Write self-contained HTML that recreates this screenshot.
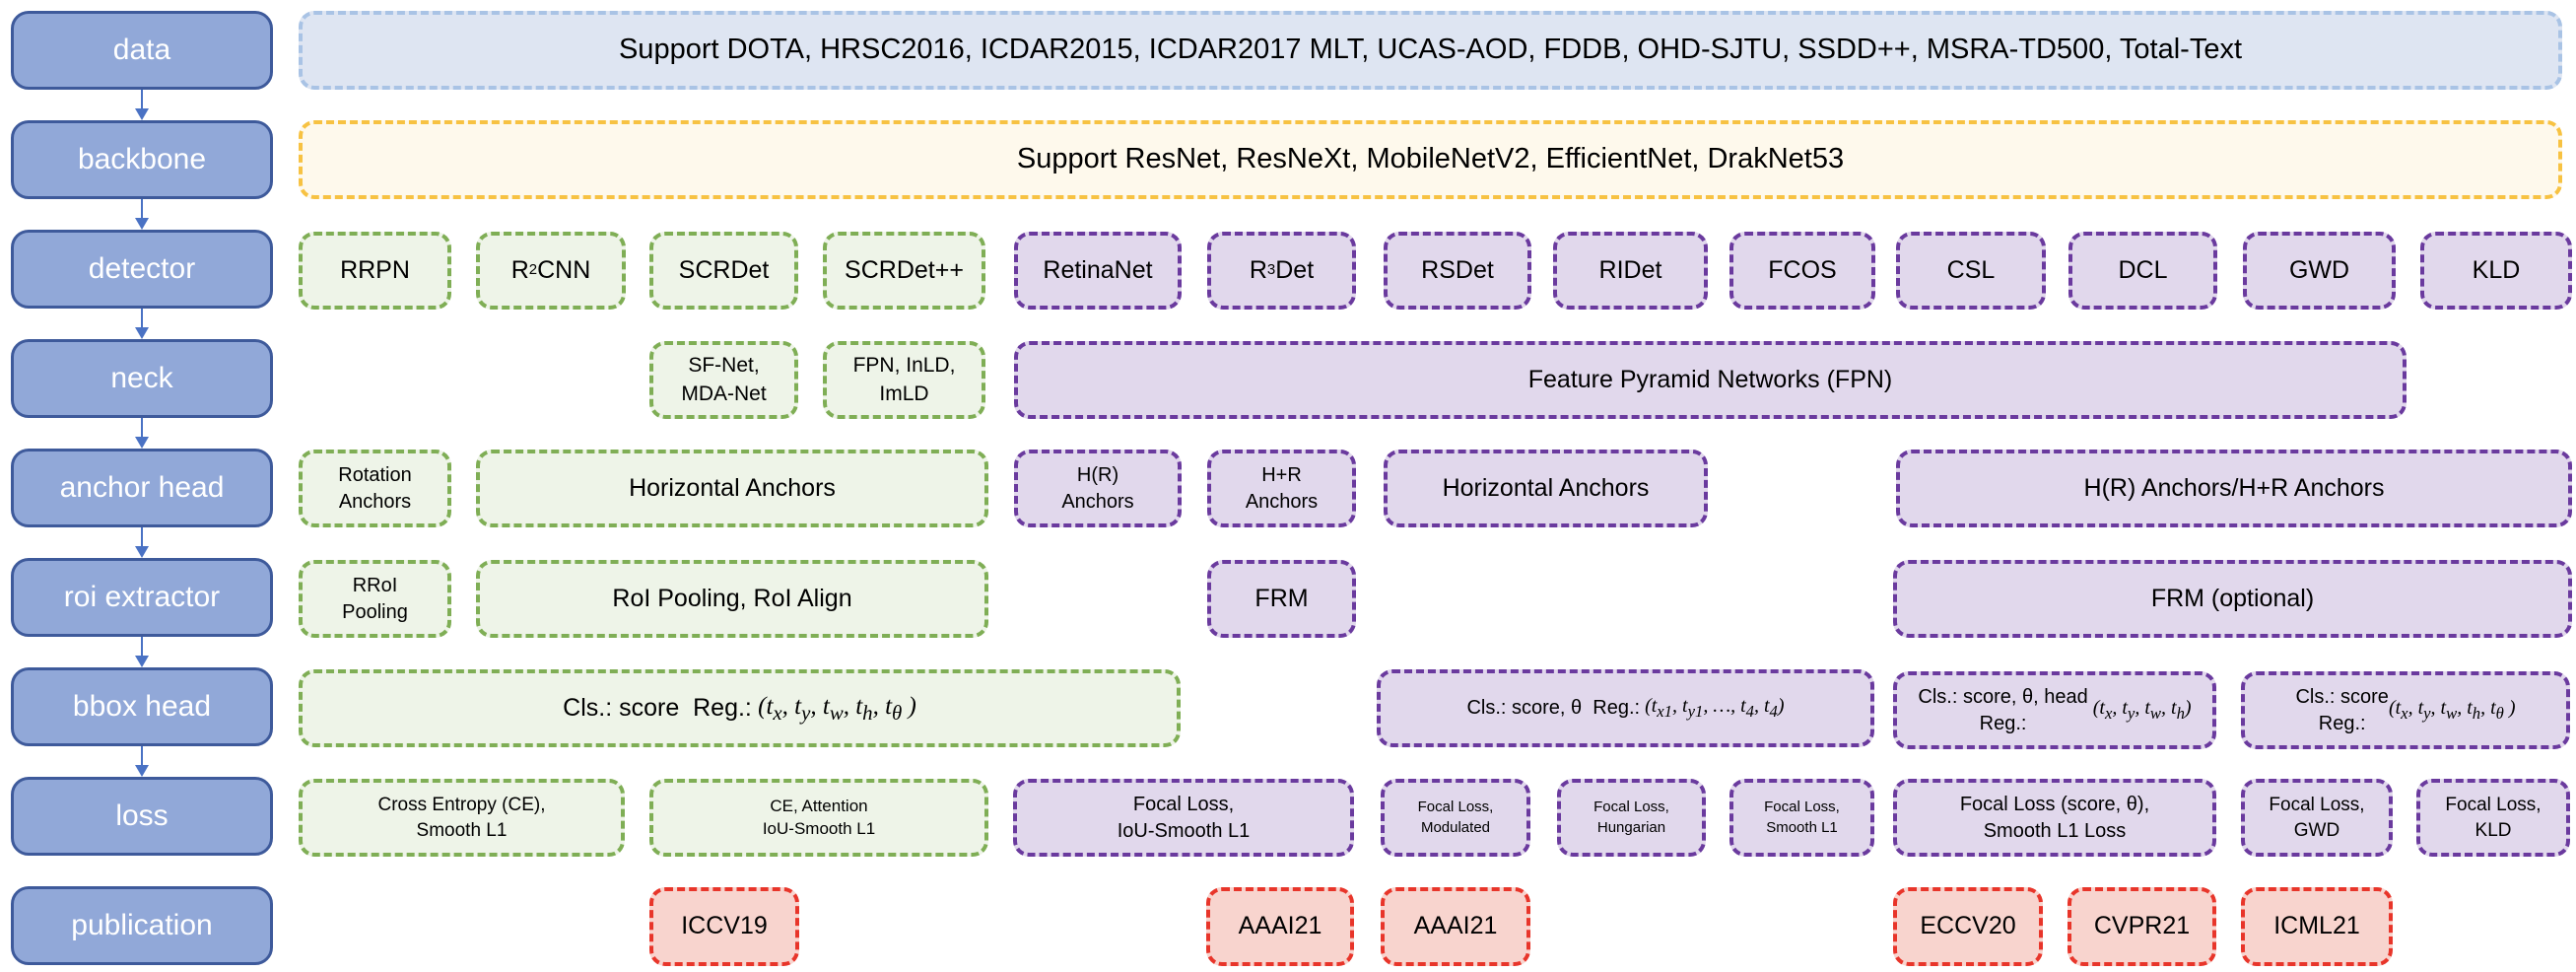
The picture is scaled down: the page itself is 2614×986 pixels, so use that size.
<!DOCTYPE html>
<html><head><meta charset="utf-8">
<style>
body{margin:0;width:2614px;height:986px;background:#fff;position:relative;overflow:hidden;font-family:"Liberation Sans",sans-serif;}
.b{position:absolute;box-sizing:border-box;display:flex;align-items:center;justify-content:center;text-align:center;border-radius:16px;color:#000;line-height:1.35;}
.l{background:#91A8D8;border:3px solid #3E5A9B;color:#fff;font-size:30px;border-radius:18px;}
.g{background:#EEF4E8;border:4px dashed #7FAE55;}
.p{background:#E1D8EC;border:4px dashed #6A3A9E;}
.r{background:#F8D4CE;border:4px dashed #E8352A;}
.m{font-family:"Liberation Serif",serif;font-style:italic;}
.a{position:absolute;left:143px;width:2px;background:#4A72C4;}
.h{position:absolute;left:137px;width:0;height:0;border-left:7px solid transparent;border-right:7px solid transparent;border-top:12px solid #4A72C4;}
</style></head><body>
<!-- left labels -->
<div class="b l" style="left:11px;top:11px;width:266px;height:80px">data</div>
<div class="b l" style="left:11px;top:122px;width:266px;height:80px">backbone</div>
<div class="b l" style="left:11px;top:233px;width:266px;height:80px">detector</div>
<div class="b l" style="left:11px;top:344px;width:266px;height:80px">neck</div>
<div class="b l" style="left:11px;top:455px;width:266px;height:80px">anchor head</div>
<div class="b l" style="left:11px;top:566px;width:266px;height:80px">roi extractor</div>
<div class="b l" style="left:11px;top:677px;width:266px;height:80px">bbox head</div>
<div class="b l" style="left:11px;top:788px;width:266px;height:80px">loss</div>
<div class="b l" style="left:11px;top:899px;width:266px;height:80px">publication</div>
<!-- arrows -->
<div class="a" style="top:91px;height:20px"></div><div class="h" style="top:110px"></div>
<div class="a" style="top:202px;height:20px"></div><div class="h" style="top:221px"></div>
<div class="a" style="top:313px;height:20px"></div><div class="h" style="top:332px"></div>
<div class="a" style="top:424px;height:20px"></div><div class="h" style="top:443px"></div>
<div class="a" style="top:535px;height:20px"></div><div class="h" style="top:554px"></div>
<div class="a" style="top:646px;height:20px"></div><div class="h" style="top:665px"></div>
<div class="a" style="top:757px;height:20px"></div><div class="h" style="top:776px"></div>
<!-- data / backbone -->
<div class="b" style="left:303px;top:11px;width:2297px;height:80px;background:#DEE5F2;border:4px dashed #A9C3E5;font-size:29px">Support DOTA, HRSC2016, ICDAR2015, ICDAR2017 MLT, UCAS-AOD, FDDB, OHD-SJTU, SSDD++, MSRA-TD500, Total-Text</div>
<div class="b" style="left:303px;top:122px;width:2297px;height:80px;background:#FEF9EC;border:4px dashed #F7C242;font-size:29px">Support ResNet, ResNeXt, MobileNetV2, EfficientNet, DrakNet53</div>
<!-- detector -->
<div style="font-size:25px">
<div class="b g" style="left:303px;top:235px;width:155px;height:79px">RRPN</div>
<div class="b g" style="left:483px;top:235px;width:152px;height:79px">R<sup style="font-size:15px">2</sup>CNN</div>
<div class="b g" style="left:659px;top:235px;width:151px;height:79px">SCRDet</div>
<div class="b g" style="left:835px;top:235px;width:165px;height:79px">SCRDet++</div>
<div class="b p" style="left:1029px;top:235px;width:170px;height:79px">RetinaNet</div>
<div class="b p" style="left:1225px;top:235px;width:151px;height:79px">R<sup style="font-size:15px">3</sup>Det</div>
<div class="b p" style="left:1404px;top:235px;width:150px;height:79px">RSDet</div>
<div class="b p" style="left:1576px;top:235px;width:157px;height:79px">RIDet</div>
<div class="b p" style="left:1755px;top:235px;width:148px;height:79px">FCOS</div>
<div class="b p" style="left:1924px;top:235px;width:152px;height:79px">CSL</div>
<div class="b p" style="left:2099px;top:235px;width:151px;height:79px">DCL</div>
<div class="b p" style="left:2276px;top:235px;width:155px;height:79px">GWD</div>
<div class="b p" style="left:2456px;top:235px;width:154px;height:79px">KLD</div>
<!-- neck -->
<div class="b g" style="left:659px;top:346px;width:151px;height:79px;font-size:21px">SF-Net,<br>MDA-Net</div>
<div class="b g" style="left:835px;top:346px;width:165px;height:79px;font-size:21px">FPN, InLD,<br>ImLD</div>
<div class="b p" style="left:1029px;top:346px;width:1413px;height:79px">Feature Pyramid Networks (FPN)</div>
<!-- anchor head -->
<div class="b g" style="left:303px;top:456px;width:155px;height:79px;font-size:20px">Rotation<br>Anchors</div>
<div class="b g" style="left:483px;top:456px;width:520px;height:79px">Horizontal Anchors</div>
<div class="b p" style="left:1029px;top:456px;width:170px;height:79px;font-size:20px">H(R)<br>Anchors</div>
<div class="b p" style="left:1225px;top:456px;width:151px;height:79px;font-size:20px">H+R<br>Anchors</div>
<div class="b p" style="left:1404px;top:456px;width:329px;height:79px">Horizontal Anchors</div>
<div class="b p" style="left:1924px;top:456px;width:686px;height:79px">H(R) Anchors/H+R Anchors</div>
<!-- roi -->
<div class="b g" style="left:303px;top:568px;width:155px;height:79px;font-size:20px">RRoI<br>Pooling</div>
<div class="b g" style="left:483px;top:568px;width:520px;height:79px">RoI Pooling, RoI Align</div>
<div class="b p" style="left:1225px;top:568px;width:151px;height:79px">FRM</div>
<div class="b p" style="left:1921px;top:568px;width:689px;height:79px">FRM (optional)</div>
<!-- bbox -->
<div class="b g" style="left:303px;top:679px;width:895px;height:79px">Cls.: score&nbsp; Reg.: <span class="m">&nbsp;(t<sub>x</sub>, t<sub>y</sub>, t<sub>w</sub>, t<sub>h</sub>, t<sub>θ</sub> )</span></div>
<div class="b p" style="left:1397px;top:679px;width:505px;height:79px;font-size:20px">Cls.: score, θ&nbsp; Reg.: <span class="m">&nbsp;(t<sub>x1</sub>, t<sub>y1</sub>, …, t<sub>4</sub>, t<sub>4</sub>)</span></div>
<div class="b p" style="left:1921px;top:681px;width:328px;height:79px;font-size:20px">Cls.: score, θ, head<br>Reg.: <span class="m">&nbsp;(t<sub>x</sub>, t<sub>y</sub>, t<sub>w</sub>, t<sub>h</sub>)</span></div>
<div class="b p" style="left:2274px;top:681px;width:334px;height:79px;font-size:20px">Cls.: score<br>Reg.:<span class="m">(t<sub>x</sub>, t<sub>y</sub>, t<sub>w</sub>, t<sub>h</sub>, t<sub>θ</sub> )</span></div>
<!-- loss -->
<div class="b g" style="left:303px;top:790px;width:331px;height:79px;font-size:19px">Cross Entropy (CE),<br>Smooth L1</div>
<div class="b g" style="left:659px;top:790px;width:344px;height:79px;font-size:17px">CE, Attention<br>IoU-Smooth L1</div>
<div class="b p" style="left:1028px;top:790px;width:346px;height:79px;font-size:20px">Focal Loss,<br>IoU-Smooth L1</div>
<div class="b p" style="left:1401px;top:790px;width:152px;height:79px;font-size:15px">Focal Loss,<br>Modulated</div>
<div class="b p" style="left:1580px;top:790px;width:151px;height:79px;font-size:15px">Focal Loss,<br>Hungarian</div>
<div class="b p" style="left:1755px;top:790px;width:147px;height:79px;font-size:15px">Focal Loss,<br>Smooth L1</div>
<div class="b p" style="left:1921px;top:790px;width:328px;height:79px;font-size:20px">Focal Loss (score, θ),<br>Smooth L1 Loss</div>
<div class="b p" style="left:2274px;top:790px;width:154px;height:79px;font-size:19px">Focal Loss,<br>GWD</div>
<div class="b p" style="left:2452px;top:790px;width:156px;height:79px;font-size:19px">Focal Loss,<br>KLD</div>
<!-- publication -->
<div class="b r" style="left:659px;top:900px;width:152px;height:80px">ICCV19</div>
<div class="b r" style="left:1224px;top:900px;width:150px;height:80px">AAAI21</div>
<div class="b r" style="left:1401px;top:900px;width:152px;height:80px">AAAI21</div>
<div class="b r" style="left:1921px;top:900px;width:152px;height:80px">ECCV20</div>
<div class="b r" style="left:2098px;top:900px;width:151px;height:80px">CVPR21</div>
<div class="b r" style="left:2274px;top:900px;width:154px;height:80px">ICML21</div>
</div>
</body></html>
